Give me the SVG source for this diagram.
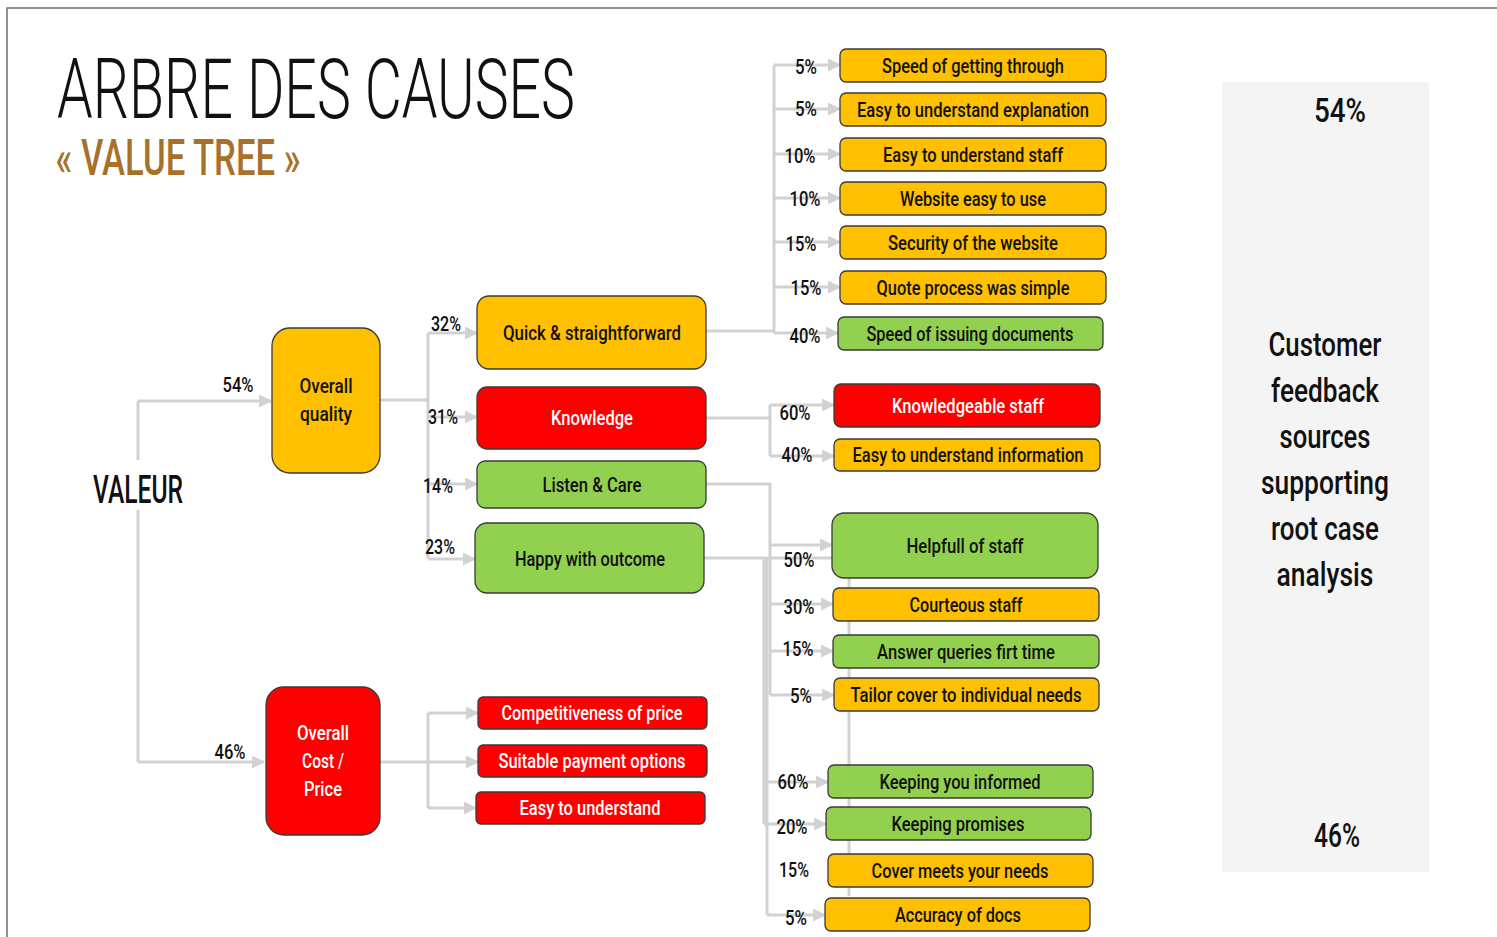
<svg xmlns="http://www.w3.org/2000/svg" width="1497" height="937" viewBox="0 0 1497 937">
  <style>
    .t { font-family: "Roboto", "DejaVu Sans Condensed", "Liberation Sans", sans-serif; text-anchor: middle; }
    .lbl { font-size: 21px; font-weight: 500; fill: #111; }
    .pct { font-size: 20px; font-weight: 500; fill: #111; }
    .wh { fill: #fff; }
    .yel { fill: #FFC000; stroke: #3a3a3a; stroke-width: 1.3; }
    .red { fill: #FF0000; stroke: #3a3a3a; stroke-width: 1.3; }
    .grn { fill: #92D050; stroke: #3a3a3a; stroke-width: 1.3; }
    .con { fill: none; stroke: #D2D2D2; stroke-width: 3; }
    .arr { marker-end: url(#ah); }
  </style>
  <defs>
    <marker id="ah" viewBox="0 0 12 12" refX="11" refY="6" markerWidth="13" markerHeight="13" markerUnits="userSpaceOnUse" orient="auto">
      <path d="M0,0 L12,6 L0,12 Z" fill="#D2D2D2"/>
    </marker>
  </defs>

  <rect width="1497" height="937" fill="#fff"/>
  <!-- page frame -->
  <path d="M7,937 V8 H1497" fill="none" stroke="#6f6f6f" stroke-width="1.5"/>

  <!-- heading -->
  <g id="title">
    <text class="t" x="316" y="118" font-size="84" font-weight="300" fill="#111" textLength="518" lengthAdjust="spacingAndGlyphs">ARBRE DES CAUSES</text>
    <text class="t" x="178" y="175" font-size="50" font-weight="500" fill="#A8712A" textLength="245" lengthAdjust="spacingAndGlyphs">« VALUE TREE »</text>
  </g>

  <!-- connectors -->
  <g id="connectors">
    <!-- root -->
    <path class="con" d="M138,460 V401"/>
    <path class="con arr" d="M138,401 H271"/>
    <path class="con" d="M138,510 V762"/>
    <path class="con arr" d="M138,762 H264"/>
    <!-- overall quality -->
    <path class="con" d="M380,400 H428 M428,333 V559"/>
    <path class="con arr" d="M428,333 H477"/>
    <path class="con arr" d="M428,417 H477"/>
    <path class="con arr" d="M428,484 H477"/>
    <path class="con arr" d="M428,559 H475"/>
    <!-- overall cost -->
    <path class="con" d="M380,762 H428 M428,713 V808"/>
    <path class="con arr" d="M428,713 H478"/>
    <path class="con arr" d="M428,762 H478"/>
    <path class="con arr" d="M428,808 H476"/>
    <!-- quick & straightforward -->
    <path class="con" d="M706,331 H774 M774,65 V333"/>
    <path class="con arr" d="M774,65 H840"/>
    <path class="con arr" d="M774,109 H840"/>
    <path class="con arr" d="M774,154 H840"/>
    <path class="con arr" d="M774,198 H840"/>
    <path class="con arr" d="M774,242 H840"/>
    <path class="con arr" d="M774,287 H840"/>
    <path class="con arr" d="M774,333 H838"/>
    <!-- knowledge -->
    <path class="con" d="M706,418 H770 M770,405 V456"/>
    <path class="con arr" d="M770,405 H834"/>
    <path class="con arr" d="M770,456 H834"/>
    <!-- listen & care -->
    <path class="con" d="M706,484 H770 V695"/>
    <path class="con arr" d="M770,545 H832"/>
    <path class="con arr" d="M770,604 H833"/>
    <path class="con arr" d="M770,651 H833"/>
    <path class="con arr" d="M770,695 H834"/>
    <!-- happy with outcome -->
    <path class="con" d="M704,558 H849 V896"/>
    <path class="con" d="M764,558 V824 M767,558 V915"/>
    <path class="con arr" d="M764,782 H828"/>
    <path class="con arr" d="M764,824 H826"/>
    <path class="con arr" d="M767,915 H825"/>
  </g>

  <!-- root label -->
  <g id="valeur">
    <text class="t" x="138" y="503" font-size="38" font-weight="500" fill="#111" textLength="90" lengthAdjust="spacingAndGlyphs">VALEUR</text>
  </g>

  <!-- percentage labels -->
  <g id="percentages">
    <text class="t pct" x="238" y="392" textLength="31" lengthAdjust="spacingAndGlyphs">54%</text>
    <text class="t pct" x="230" y="759" textLength="31" lengthAdjust="spacingAndGlyphs">46%</text>
    <text class="t pct" x="446" y="331" textLength="30" lengthAdjust="spacingAndGlyphs">32%</text>
    <text class="t pct" x="443" y="424" textLength="30" lengthAdjust="spacingAndGlyphs">31%</text>
    <text class="t pct" x="438" y="493" textLength="30" lengthAdjust="spacingAndGlyphs">14%</text>
    <text class="t pct" x="440" y="554" textLength="30" lengthAdjust="spacingAndGlyphs">23%</text>
    <text class="t pct" x="806" y="74" textLength="22" lengthAdjust="spacingAndGlyphs">5%</text>
    <text class="t pct" x="806" y="116" textLength="22" lengthAdjust="spacingAndGlyphs">5%</text>
    <text class="t pct" x="800" y="163" textLength="31" lengthAdjust="spacingAndGlyphs">10%</text>
    <text class="t pct" x="805" y="206" textLength="31" lengthAdjust="spacingAndGlyphs">10%</text>
    <text class="t pct" x="801" y="251" textLength="31" lengthAdjust="spacingAndGlyphs">15%</text>
    <text class="t pct" x="806" y="295" textLength="31" lengthAdjust="spacingAndGlyphs">15%</text>
    <text class="t pct" x="805" y="343" textLength="31" lengthAdjust="spacingAndGlyphs">40%</text>
    <text class="t pct" x="795" y="420" textLength="31" lengthAdjust="spacingAndGlyphs">60%</text>
    <text class="t pct" x="797" y="462" textLength="31" lengthAdjust="spacingAndGlyphs">40%</text>
    <text class="t pct" x="799" y="567" textLength="31" lengthAdjust="spacingAndGlyphs">50%</text>
    <text class="t pct" x="799" y="614" textLength="31" lengthAdjust="spacingAndGlyphs">30%</text>
    <text class="t pct" x="798" y="656" textLength="31" lengthAdjust="spacingAndGlyphs">15%</text>
    <text class="t pct" x="801" y="703" textLength="22" lengthAdjust="spacingAndGlyphs">5%</text>
    <text class="t pct" x="793" y="789" textLength="31" lengthAdjust="spacingAndGlyphs">60%</text>
    <text class="t pct" x="792" y="834" textLength="31" lengthAdjust="spacingAndGlyphs">20%</text>
    <text class="t pct" x="794" y="877" textLength="30" lengthAdjust="spacingAndGlyphs">15%</text>
    <text class="t pct" x="796" y="925" textLength="22" lengthAdjust="spacingAndGlyphs">5%</text>
  </g>

  <!-- level 1 -->
  <g id="overall-quality">
    <rect class="yel" x="272" y="328" width="108" height="145" rx="18"/>
    <text class="t lbl" x="326" y="393" font-size="22" textLength="53" lengthAdjust="spacingAndGlyphs">Overall</text>
    <text class="t lbl" x="326" y="421" font-size="22" textLength="52" lengthAdjust="spacingAndGlyphs">quality</text>
  </g>
  <g id="overall-cost">
    <rect class="red" x="266" y="687" width="114" height="148" rx="18"/>
    <text class="t lbl wh" x="323" y="740" font-size="22" textLength="52" lengthAdjust="spacingAndGlyphs">Overall</text>
    <text class="t lbl wh" x="323" y="768" font-size="22" textLength="42" lengthAdjust="spacingAndGlyphs">Cost /</text>
    <text class="t lbl wh" x="323" y="796" font-size="22" textLength="38" lengthAdjust="spacingAndGlyphs">Price</text>
  </g>

  <!-- level 2 -->
  <g id="quick">
    <rect class="yel" x="477" y="296" width="229" height="73" rx="12"/>
    <text class="t lbl" x="592" y="340" font-size="22" textLength="178" lengthAdjust="spacingAndGlyphs">Quick &amp; straightforward</text>
  </g>
  <g id="knowledge">
    <rect class="red" x="477" y="387" width="229" height="62" rx="10"/>
    <text class="t lbl wh" x="592" y="425" font-size="22" textLength="82" lengthAdjust="spacingAndGlyphs">Knowledge</text>
  </g>
  <g id="listen">
    <rect class="grn" x="477" y="461" width="229" height="47" rx="8"/>
    <text class="t lbl" x="592" y="492" font-size="22" textLength="99" lengthAdjust="spacingAndGlyphs">Listen &amp; Care</text>
  </g>
  <g id="happy">
    <rect class="grn" x="475" y="523" width="229" height="70" rx="12"/>
    <text class="t lbl" x="590" y="566" font-size="22" textLength="150" lengthAdjust="spacingAndGlyphs">Happy with outcome</text>
  </g>
  <g id="competitiveness">
    <rect class="red" x="478" y="697" width="229" height="32" rx="5"/>
    <text class="t lbl wh" x="592" y="720" textLength="181" lengthAdjust="spacingAndGlyphs">Competitiveness of price</text>
  </g>
  <g id="payment">
    <rect class="red" x="478" y="745" width="229" height="32" rx="5"/>
    <text class="t lbl wh" x="592" y="768" textLength="187" lengthAdjust="spacingAndGlyphs">Suitable payment options</text>
  </g>
  <g id="easy-price">
    <rect class="red" x="476" y="792" width="229" height="32" rx="5"/>
    <text class="t lbl wh" x="590" y="815" textLength="141" lengthAdjust="spacingAndGlyphs">Easy to understand</text>
  </g>

  <!-- level 3 -->
  <g id="speed-through">
    <rect class="yel" x="840" y="49" width="266" height="33" rx="6"/>
    <text class="t lbl" x="973" y="73" textLength="182" lengthAdjust="spacingAndGlyphs">Speed of getting through</text>
  </g>
  <g id="easy-explanation">
    <rect class="yel" x="840" y="93" width="266" height="33" rx="6"/>
    <text class="t lbl" x="973" y="117" textLength="232" lengthAdjust="spacingAndGlyphs">Easy to understand explanation</text>
  </g>
  <g id="easy-staff">
    <rect class="yel" x="840" y="138" width="266" height="33" rx="6"/>
    <text class="t lbl" x="973" y="162" textLength="180" lengthAdjust="spacingAndGlyphs">Easy to understand staff</text>
  </g>
  <g id="website">
    <rect class="yel" x="840" y="182" width="266" height="33" rx="6"/>
    <text class="t lbl" x="973" y="206" textLength="146" lengthAdjust="spacingAndGlyphs">Website easy to use</text>
  </g>
  <g id="security">
    <rect class="yel" x="840" y="226" width="266" height="33" rx="6"/>
    <text class="t lbl" x="973" y="250" textLength="170" lengthAdjust="spacingAndGlyphs">Security of the website</text>
  </g>
  <g id="quote">
    <rect class="yel" x="840" y="271" width="266" height="33" rx="6"/>
    <text class="t lbl" x="973" y="295" textLength="193" lengthAdjust="spacingAndGlyphs">Quote process was simple</text>
  </g>
  <g id="speed-docs">
    <rect class="grn" x="838" y="317" width="265" height="33" rx="6"/>
    <text class="t lbl" x="970" y="341" textLength="207" lengthAdjust="spacingAndGlyphs">Speed of issuing documents</text>
  </g>
  <g id="knowledgeable-staff">
    <rect class="red" x="834" y="384" width="266" height="43" rx="7"/>
    <text class="t lbl wh" x="968" y="413" textLength="152" lengthAdjust="spacingAndGlyphs">Knowledgeable staff</text>
  </g>
  <g id="easy-information">
    <rect class="yel" x="834" y="439" width="266" height="32" rx="6"/>
    <text class="t lbl" x="968" y="462" textLength="231" lengthAdjust="spacingAndGlyphs">Easy to understand information</text>
  </g>
  <g id="helpfull">
    <rect class="grn" x="832" y="513" width="266" height="65" rx="12"/>
    <text class="t lbl" x="965" y="553" textLength="117" lengthAdjust="spacingAndGlyphs">Helpfull of staff</text>
  </g>
  <g id="courteous">
    <rect class="yel" x="833" y="588" width="266" height="33" rx="6"/>
    <text class="t lbl" x="966" y="612" textLength="113" lengthAdjust="spacingAndGlyphs">Courteous staff</text>
  </g>
  <g id="answer">
    <rect class="grn" x="833" y="635" width="266" height="33" rx="6"/>
    <text class="t lbl" x="966" y="659" textLength="178" lengthAdjust="spacingAndGlyphs">Answer queries firt time</text>
  </g>
  <g id="tailor">
    <rect class="yel" x="834" y="678" width="265" height="33" rx="6"/>
    <text class="t lbl" x="966" y="702" textLength="231" lengthAdjust="spacingAndGlyphs">Tailor cover to individual needs</text>
  </g>
  <g id="informed">
    <rect class="grn" x="828" y="765" width="265" height="33" rx="6"/>
    <text class="t lbl" x="960" y="789" textLength="161" lengthAdjust="spacingAndGlyphs">Keeping you informed</text>
  </g>
  <g id="promises">
    <rect class="grn" x="826" y="807" width="265" height="33" rx="6"/>
    <text class="t lbl" x="958" y="831" textLength="133" lengthAdjust="spacingAndGlyphs">Keeping promises</text>
  </g>
  <g id="cover-needs">
    <rect class="yel" x="828" y="854" width="265" height="33" rx="6"/>
    <text class="t lbl" x="960" y="878" textLength="177" lengthAdjust="spacingAndGlyphs">Cover meets your needs</text>
  </g>
  <g id="accuracy">
    <rect class="yel" x="825" y="898" width="265" height="33" rx="6"/>
    <text class="t lbl" x="958" y="922" textLength="126" lengthAdjust="spacingAndGlyphs">Accuracy of docs</text>
  </g>

  <!-- side panel -->
  <g id="feedback-panel">
    <rect x="1222" y="82" width="207" height="790" fill="#F4F4F4"/>
    <g class="t" font-size="34" font-weight="500" fill="#111">
      <text x="1340" y="122" textLength="52" lengthAdjust="spacingAndGlyphs">54%</text>
      <text x="1325" y="356" textLength="113" lengthAdjust="spacingAndGlyphs">Customer</text>
      <text x="1325" y="402" textLength="108" lengthAdjust="spacingAndGlyphs">feedback</text>
      <text x="1325" y="448" textLength="91" lengthAdjust="spacingAndGlyphs">sources</text>
      <text x="1325" y="494" textLength="128" lengthAdjust="spacingAndGlyphs">supporting</text>
      <text x="1325" y="540" textLength="108" lengthAdjust="spacingAndGlyphs">root case</text>
      <text x="1325" y="586" textLength="97" lengthAdjust="spacingAndGlyphs">analysis</text>
      <text x="1337" y="847" textLength="46" lengthAdjust="spacingAndGlyphs">46%</text>
    </g>
  </g>
</svg>
